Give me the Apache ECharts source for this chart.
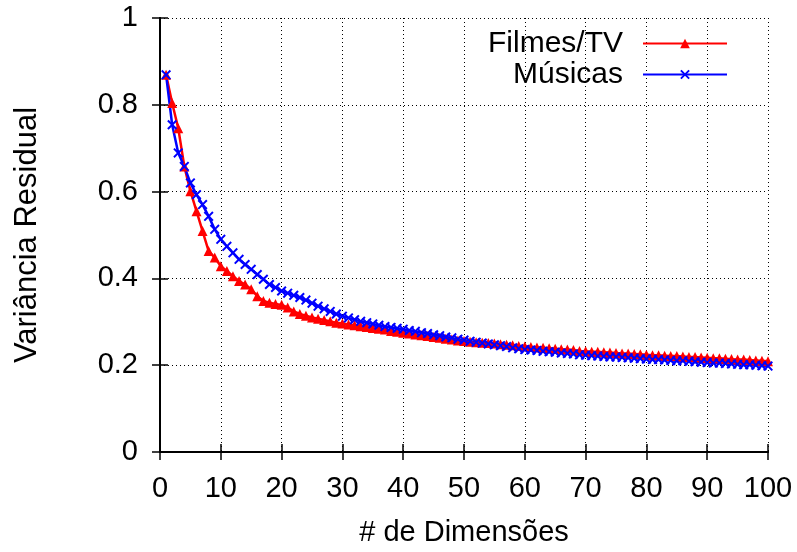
<!DOCTYPE html>
<html>
<head>
<meta charset="utf-8">
<script src="https://cdn.jsdelivr.net/npm/echarts@6/dist/echarts.min.js"></script>
<style>html,body{margin:0;padding:0;background:#fff}#c{width:797px;height:552px}</style>
</head>
<body>
<div id="c"></div>
<script>
const dims = Array.from({length: 100}, (_, i) => i + 1);
const filmesTV = [
0.869,0.804,0.746,0.658,0.601,0.555,0.509,0.463,0.448,0.428,
0.417,0.405,0.394,0.386,0.375,0.359,0.348,0.344,0.341,0.339,
0.333,0.324,0.318,0.314,0.310,0.307,0.304,0.301,0.298,0.296,
0.294,0.292,0.290,0.288,0.286,0.284,0.282,0.279,0.277,0.275,
0.273,0.271,0.269,0.267,0.265,0.263,0.261,0.259,0.257,0.256,
0.254,0.253,0.252,0.251,0.250,0.248,0.247,0.246,0.244,0.243,
0.242,0.241,0.240,0.239,0.238,0.237,0.236,0.235,0.233,0.232,
0.231,0.231,0.230,0.229,0.228,0.227,0.227,0.226,0.225,0.224,
0.223,0.223,0.222,0.221,0.221,0.220,0.219,0.219,0.218,0.217,
0.216,0.216,0.215,0.214,0.213,0.213,0.212,0.211,0.210,0.209];
const musicas = [
0.869,0.754,0.689,0.658,0.620,0.593,0.570,0.543,0.513,0.490,
0.474,0.459,0.444,0.432,0.421,0.409,0.398,0.386,0.379,0.371,
0.366,0.361,0.356,0.350,0.343,0.336,0.330,0.324,0.318,0.313,
0.309,0.305,0.301,0.298,0.295,0.292,0.289,0.287,0.285,0.283,
0.280,0.278,0.275,0.273,0.270,0.268,0.265,0.263,0.260,0.258,
0.255,0.253,0.251,0.249,0.247,0.245,0.243,0.240,0.238,0.236,
0.235,0.234,0.232,0.231,0.230,0.228,0.227,0.226,0.224,0.223,
0.222,0.221,0.220,0.219,0.219,0.218,0.217,0.216,0.215,0.214,
0.213,0.213,0.212,0.211,0.210,0.210,0.209,0.208,0.207,0.206,
0.205,0.205,0.204,0.203,0.202,0.201,0.201,0.200,0.199,0.198];
const seriesNames = ['Filmes/TV', 'Músicas'];
const xTitle = '# de Dimensões';
const yTitle = 'Variância Residual';

const FONT = 'Liberation Sans, Arial, Helvetica, sans-serif';
const crossPath = 'path://M0,1.4 L1.4,0 L5,3.6 L8.6,0 L10,1.4 L6.4,5 L10,8.6 L8.6,10 L5,6.4 L1.4,10 L0,8.6 L3.6,5 Z';

const chart = echarts.init(document.getElementById('c'), null, {renderer: 'canvas'});
const axisCommon = {
  axisLine: {show: true, lineStyle: {color: '#000', width: 2}},
  axisTick: {show: true, inside: true, length: 8, lineStyle: {color: '#000', width: 1.5}},
};
chart.setOption({
  animation: false,
  backgroundColor: '#fff',
  grid: {left: 160, right: 29, top: 18, bottom: 99, containLabel: false},
  legend: {
    orient: 'vertical', right: 64, top: 23, align: 'right', itemGap: 0,
    itemWidth: 84, itemHeight: 12,
    textStyle: {fontFamily: FONT, fontSize: 30, lineHeight: 31, color: '#000', padding: [0, 15, 0, 0]},
    data: seriesNames
  },
  xAxis: [{
    type: 'value', min: 0, max: 100, interval: 10, position: 'bottom',
    ...axisCommon,
    axisLabel: {fontFamily: FONT, fontSize: 29, color: '#000', margin: 22},
    splitLine: {show: true, lineStyle: {color: '#000', type: [1, 3], width: 1}},
    name: xTitle, nameLocation: 'middle', nameGap: 66,
    nameTextStyle: {fontFamily: FONT, fontSize: 29, color: '#000'}
  }, {
    type: 'value', min: 0, max: 100, interval: 10, position: 'top',
    ...axisCommon, axisLabel: {show: false}, splitLine: {show: false}
  }],
  yAxis: [{
    type: 'value', min: 0, max: 1, interval: 0.2, position: 'left',
    ...axisCommon,
    axisLabel: {fontFamily: FONT, fontSize: 29, color: '#000', margin: 22,
      formatter: v => (Math.round(v * 10) / 10).toString()},
    splitLine: {show: true, lineStyle: {color: '#000', type: [1, 3], width: 1}},
    name: yTitle, nameLocation: 'middle', nameGap: 117, nameRotate: 90,
    nameTextStyle: {fontFamily: FONT, fontSize: 31, color: '#000'}
  }, {
    type: 'value', min: 0, max: 1, interval: 0.2, position: 'right',
    ...axisCommon, axisLabel: {show: false}, splitLine: {show: false}
  }],
  series: [{
    name: seriesNames[0], type: 'line',
    data: dims.map((d, i) => [d, filmesTV[i]]),
    symbol: 'triangle', symbolSize: 10, showAllSymbol: true,
    lineStyle: {color: '#ff0000', width: 2.5},
    itemStyle: {color: '#ff0000'}
  }, {
    name: seriesNames[1], type: 'line',
    data: dims.map((d, i) => [d, musicas[i]]),
    symbol: crossPath, symbolSize: 10, showAllSymbol: true,
    lineStyle: {color: '#0000ff', width: 2.5},
    itemStyle: {color: '#0000ff'}
  }]
});
</script>
</body>
</html>
